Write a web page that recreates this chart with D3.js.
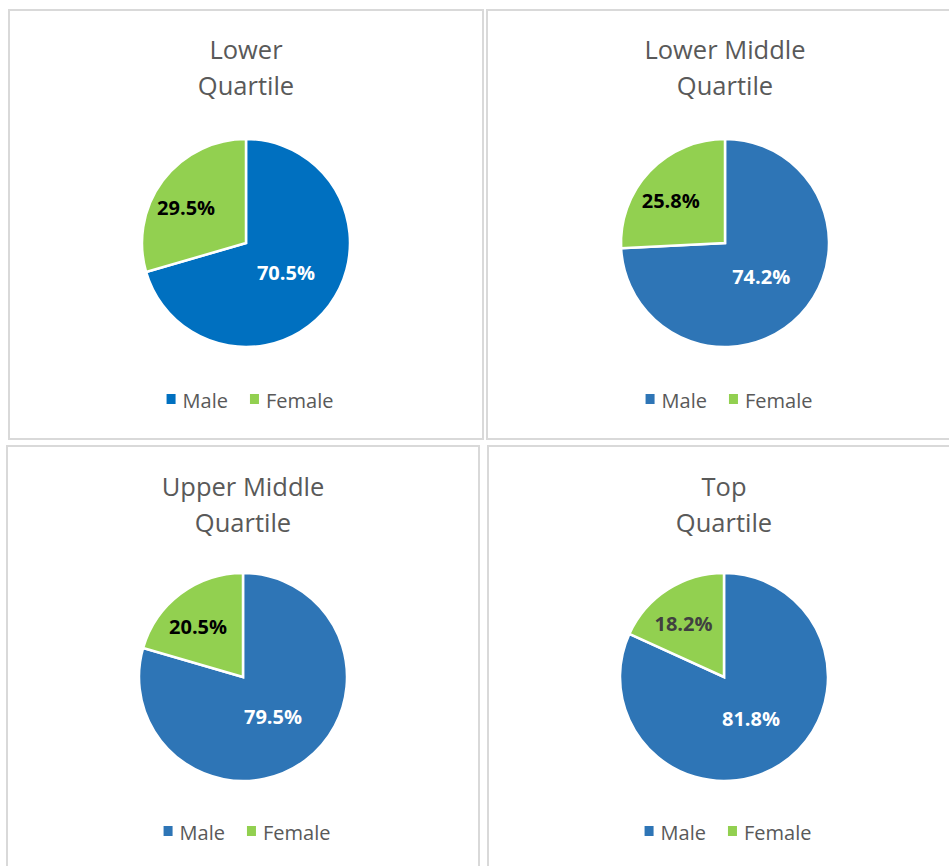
<!DOCTYPE html>
<html>
<head>
  <title>Gender split by pay quartile</title>
  <style>
    body {
      margin: 0;
      background: #fff;
      font-family: "Open Sans", Arial, sans-serif;
    }
  </style>
  <script src="https://d3js.org/d3.v7.min.js"></script>
</head>
<body>
  <div id="chart"></div>
  <script>
    // data
    const categories = ["Male", "Female"];
    const titleLines = [
      ["Lower", "Quartile"],
      ["Lower Middle", "Quartile"],
      ["Upper Middle", "Quartile"],
      ["Top", "Quartile"]
    ];
    const maleShare = [70.5, 74.2, 79.5, 81.8];
    const femaleShare = [29.5, 25.8, 20.5, 18.2];

    const maleColors = ["#0070C0", "#2E75B6", "#2E75B6", "#2E75B6"];
    const femaleColor = "#92D050";
    const femaleLabelColors = ["#000000", "#000000", "#000000", "#404040"];

    const W = 949, H = 866;
    const svg = d3.select("#chart").append("svg")
      .attr("width", W).attr("height", H);

    svg.append("rect").attr("width", W).attr("height", H).attr("fill", "#fff");

    // panel frames (two right ones run off the picture)
    const panels = [
      { x: 9, y: 10, w: 474, h: 429 },
      { x: 487, y: 10, w: 476, h: 429 },
      { x: 7, y: 446, w: 472, h: 440 },
      { x: 488, y: 446, w: 472, h: 440 }
    ];

    const r = 104;
    const pie = d3.pie().sort(null).value(d => d.value);
    const arc = d3.arc().innerRadius(0).outerRadius(r);

    panels.forEach((p, i) => {
      const g = svg.append("g").attr("transform", `translate(${p.x},${p.y})`);
      const cx = p.w / 2;

      g.append("rect")
        .attr("width", p.w).attr("height", p.h)
        .attr("fill", "#fff")
        .attr("stroke", "#D9D9D9")
        .attr("stroke-width", 2);

      // title
      g.append("text")
        .attr("x", cx).attr("y", i < 2 ? 49 : 50)
        .attr("text-anchor", "middle")
        .attr("font-size", 25.5)
        .attr("fill", "#595959")
        .selectAll("tspan")
        .data(titleLines[i])
        .join("tspan")
        .attr("x", cx)
        .attr("dy", (d, j) => j === 0 ? 0 : 36)
        .text(d => d);

      const data = [
        { key: categories[0], value: maleShare[i] },
        { key: categories[1], value: femaleShare[i] }
      ];
      const colors = [maleColors[i], femaleColor];
      const cy = i < 2 ? 233 : 231;

      const pg = g.append("g").attr("transform", `translate(${cx},${cy})`);
      const slices = pie(data);

      pg.selectAll("path")
        .data(slices)
        .join("path")
        .attr("d", arc)
        .attr("fill", (d, j) => colors[j])
        .attr("stroke", "#fff")
        .attr("stroke-width", 2.5)
        .attr("stroke-linejoin", "miter");

      pg.selectAll("text")
        .data(slices)
        .join("text")
        .attr("transform", (d, j) => {
          const k = j === 0 ? 0.48 : 0.72;
          const la = d3.arc().innerRadius(r * k).outerRadius(r * k);
          const c = la.centroid(d);
          return `translate(${c[0]},${c[1] + (j === 0 ? 0 : 10)})`;
        })
        .attr("dy", "0.35em")
        .attr("text-anchor", "middle")
        .attr("font-size", 20)
        .attr("font-weight", "bold")
        .attr("fill", (d, j) => j === 0 ? "#fff" : femaleLabelColors[i])
        .text(d => d.data.value.toFixed(1) + "%");

      // legend
      const lg = g.append("g").attr("transform", `translate(${cx},${i < 2 ? 391 : 387})`);
      const items = lg.selectAll("g")
        .data(categories)
        .join("g");
      items.append("rect")
        .attr("y", -7)
        .attr("width", 9).attr("height", 10)
        .attr("fill", (d, j) => colors[j]);
      items.append("text")
        .attr("x", 16)
        .attr("y", 0)
        .attr("dy", "0.35em")
        .attr("font-size", 20)
        .attr("fill", "#595959")
        .text(d => d);

      // lay items out in a row and centre it
      let off = 0;
      const offs = [];
      items.each(function () {
        offs.push(off);
        off += this.getBBox().width + 22;
      });
      const total = off - 22;
      items.attr("transform", (d, j) => `translate(${offs[j] - total / 2 + 4},0)`);
    });
  </script>
</body>
</html>
